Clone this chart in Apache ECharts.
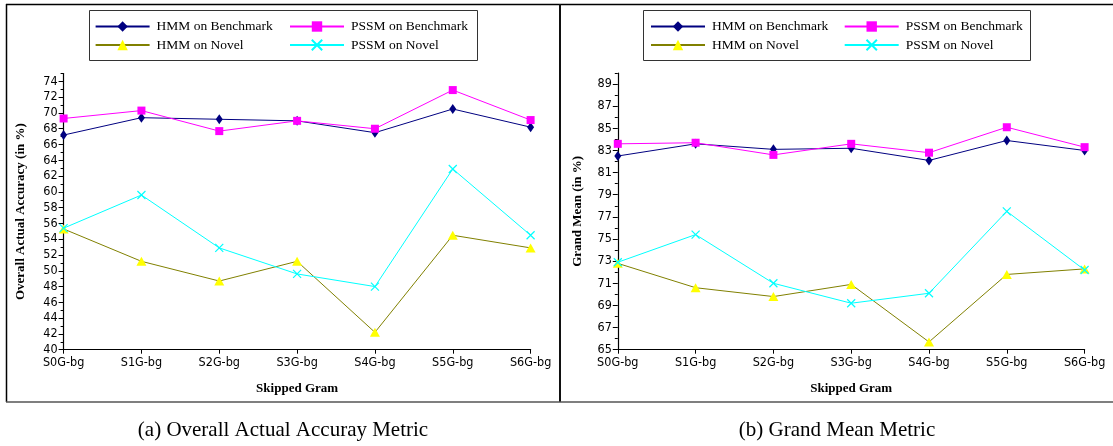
<!DOCTYPE html>
<html>
<head>
<meta charset="utf-8">
<script src="https://cdn.jsdelivr.net/npm/echarts@6/dist/echarts.min.js"></script>
<style>
  html, body { margin: 0; padding: 0; background: #fff; }
  #chart { width: 1113px; height: 446px; }
</style>
</head>
<body>
<div id="chart"></div>
<script>
// Skipped-gram variants on the x axis
const categories = ['S0G-bg', 'S1G-bg', 'S2G-bg', 'S3G-bg', 'S4G-bg', 'S5G-bg', 'S6G-bg'];

// (a) Overall actual accuracy (%)
const accHmmBench  = [67.2, 69.4, 69.2, 69.0, 67.5, 70.5, 68.2];
const accPssmBench = [69.3, 70.3, 67.7, 69.0, 68.0, 72.9, 69.1];
const accHmmNovel  = [55.3, 51.2, 48.7, 51.2, 42.2, 54.5, 52.9];
const accPssmNovel = [55.4, 59.6, 52.9, 49.6, 48.0, 62.9, 54.5];

// (b) Grand mean (%)
const gmHmmBench  = [82.5, 83.6, 83.1, 83.2, 82.1, 83.9, 83.0];
const gmPssmBench = [83.6, 83.7, 82.6, 83.6, 82.8, 85.1, 83.3];
const gmHmmNovel  = [72.8, 70.6, 69.8, 70.9, 65.7, 71.8, 72.3];
const gmPssmNovel = [72.9, 75.4, 71.0, 69.2, 70.1, 77.5, 72.2];

// Labelled ticks and the small in-between ticks
const accTicks      = [40, 42, 44, 46, 48, 50, 52, 54, 56, 58, 60, 62, 64, 66, 68, 70, 72, 74];
const accMinorTicks = [41, 43, 45, 47, 49, 51, 53, 55, 57, 59, 61, 63, 65, 67, 69, 71, 73, 75];
const gmTicks       = [65, 67, 69, 71, 73, 75, 77, 79, 81, 83, 85, 87, 89];
const gmMinorTicks  = [66, 68, 70, 72, 74, 76, 78, 80, 82, 84, 86, 88, 90];

const seriesNames = ['HMM on Benchmark', 'PSSM on Benchmark', 'HMM on Novel', 'PSSM on Novel'];

const TICK_FONT = "'Liberation Sans Narrow', 'DejaVu Sans Condensed', 'Liberation Sans', sans-serif";
const SERIF = "'Liberation Serif', 'DejaVu Serif', serif";
const CROSS = 'path://M0,0L10,10M10,0L0,10';

const styles = [
  { symbol: 'diamond', symbolSize: [7, 10], line: '#000080', fill: '#000080', border: '#000080', bw: 0 },
  { symbol: 'rect',    symbolSize: 8,       line: '#ff00ff', fill: '#ff00ff', border: '#ff00ff', bw: 0 },
  { symbol: 'triangle',symbolSize: [10, 9], line: '#808000', fill: '#ffff00', border: '#ffff00', bw: 0 },
  { symbol: CROSS,     symbolSize: 8,       line: '#00ffff', fill: '#00ffff', border: '#00ffff', bw: 1.2 }
];

function makeSeries(values, idx, axisIdx) {
  const s = styles[idx];
  return {
    name: seriesNames[idx],
    type: 'line',
    xAxisIndex: axisIdx,
    yAxisIndex: axisIdx * 2,
    data: values,
    symbol: s.symbol,
    symbolSize: s.symbolSize,
    showAllSymbol: true,
    lineStyle: { color: s.line, width: 1 },
    itemStyle: { color: s.fill, borderColor: s.border, borderWidth: s.bw },
    emphasis: { disabled: true },
    animation: false,
    z: 3 + idx
  };
}

function xAxis(gridIndex) {
  return {
    type: 'category',
    gridIndex: gridIndex,
    data: categories,
    boundaryGap: false,
    axisLine: { lineStyle: { color: '#000', width: 1.2 } },
    axisTick: { alignWithLabel: true, length: 4, lineStyle: { color: '#000' } },
    axisLabel: { color: '#000', fontFamily: TICK_FONT, fontSize: 12.5, margin: 7 },
    name: 'Skipped Gram',
    nameLocation: 'middle',
    nameGap: 32,
    nameTextStyle: { fontFamily: SERIF, fontWeight: 'bold', fontSize: 13, color: '#000' },
    splitLine: { show: false }
  };
}

function yAxes(gridIndex, min, max, ticks, minor, title, gap) {
  return [
    {
      type: 'value',
      gridIndex: gridIndex,
      min: min,
      max: max,
      axisLine: { show: true, lineStyle: { color: '#000', width: 1.2 } },
      axisTick: { show: true, length: 5, customValues: ticks, lineStyle: { color: '#000' } },
      axisLabel: { color: '#000', fontFamily: TICK_FONT, fontSize: 12.5, margin: 6, customValues: ticks },
      splitLine: { show: false },
      name: title,
      nameLocation: 'middle',
      nameGap: gap,
      nameTextStyle: { fontFamily: SERIF, fontWeight: 'bold', fontSize: 13, color: '#000' }
    },
    {
      type: 'value',
      gridIndex: gridIndex,
      min: min,
      max: max,
      position: 'left',
      axisLine: { show: false },
      axisTick: { show: true, length: 3, customValues: minor, lineStyle: { color: '#000' } },
      axisLabel: { show: false },
      splitLine: { show: false }
    }
  ];
}

function legends(leftCol1, leftCol2) {
  const common = {
    orient: 'vertical',
    top: 19.5,
    padding: 0,
    itemWidth: 54,
    itemHeight: 13,
    itemGap: 4.5,
    selectedMode: false,
    textStyle: { fontFamily: SERIF, fontSize: 13.5, color: '#000', padding: [0, 0, 0, 2] }
  };
  return [
    Object.assign({}, common, { left: leftCol1, data: [seriesNames[0], seriesNames[2]] }),
    Object.assign({}, common, { left: leftCol2, data: [seriesNames[1], seriesNames[3]] })
  ];
}

const chart = echarts.init(document.getElementById('chart'), null, { renderer: 'canvas' });

chart.setOption({
  backgroundColor: '#fff',
  animation: false,
  grid: [
    { left: 63.6, top: 73.5, width: 467, height: 276.2 },
    { left: 617.8, top: 73, width: 466.8, height: 276.7 }
  ],
  xAxis: [xAxis(0), xAxis(1)],
  yAxis: [].concat(
    yAxes(0, 40, 75, accTicks, accMinorTicks, 'Overall Actual Accuracy (in %)', 36),
    yAxes(1, 65, 90, gmTicks, gmMinorTicks, 'Grand Mean (in %)', 34)
  ),
  legend: [].concat(legends(94.6, 289), legends(650, 843.7)),
  series: [
    makeSeries(accHmmBench, 0, 0),
    makeSeries(accPssmBench, 1, 0),
    makeSeries(accHmmNovel, 2, 0),
    makeSeries(accPssmNovel, 3, 0),
    makeSeries(gmHmmBench, 0, 1),
    makeSeries(gmPssmBench, 1, 1),
    makeSeries(gmHmmNovel, 2, 1),
    makeSeries(gmPssmNovel, 3, 1)
  ],
  graphic: [
    // panel frame
    { type: 'line', shape: { x1: 6, y1: 4.5, x2: 1113, y2: 4.5 }, style: { stroke: '#000', lineWidth: 1.5 }, silent: true },
    { type: 'line', shape: { x1: 6.5, y1: 4, x2: 6.5, y2: 402 }, style: { stroke: '#000', lineWidth: 1.5 }, silent: true },
    { type: 'line', shape: { x1: 560, y1: 4, x2: 560, y2: 402 }, style: { stroke: '#111', lineWidth: 2 }, silent: true },
    { type: 'line', shape: { x1: 6, y1: 402, x2: 1113, y2: 402 }, style: { stroke: '#555', lineWidth: 1.5 }, silent: true },
    // legend boxes
    { type: 'rect', shape: { x: 89.5, y: 10.5, width: 388, height: 50 }, style: { fill: 'none', stroke: '#333', lineWidth: 1 }, silent: true, z: -1 },
    { type: 'rect', shape: { x: 643.5, y: 10.5, width: 387, height: 50 }, style: { fill: 'none', stroke: '#333', lineWidth: 1 }, silent: true, z: -1 },
    // captions
    { type: 'text', x: 283, y: 430, style: { text: '(a) Overall Actual Accuray Metric', fontFamily: SERIF, fontSize: 21, fill: '#000', textAlign: 'center', textVerticalAlign: 'middle' }, silent: true },
    { type: 'text', x: 837, y: 430, style: { text: '(b) Grand Mean Metric', fontFamily: SERIF, fontSize: 21, fill: '#000', textAlign: 'center', textVerticalAlign: 'middle' }, silent: true }
  ]
});
</script>
</body>
</html>
